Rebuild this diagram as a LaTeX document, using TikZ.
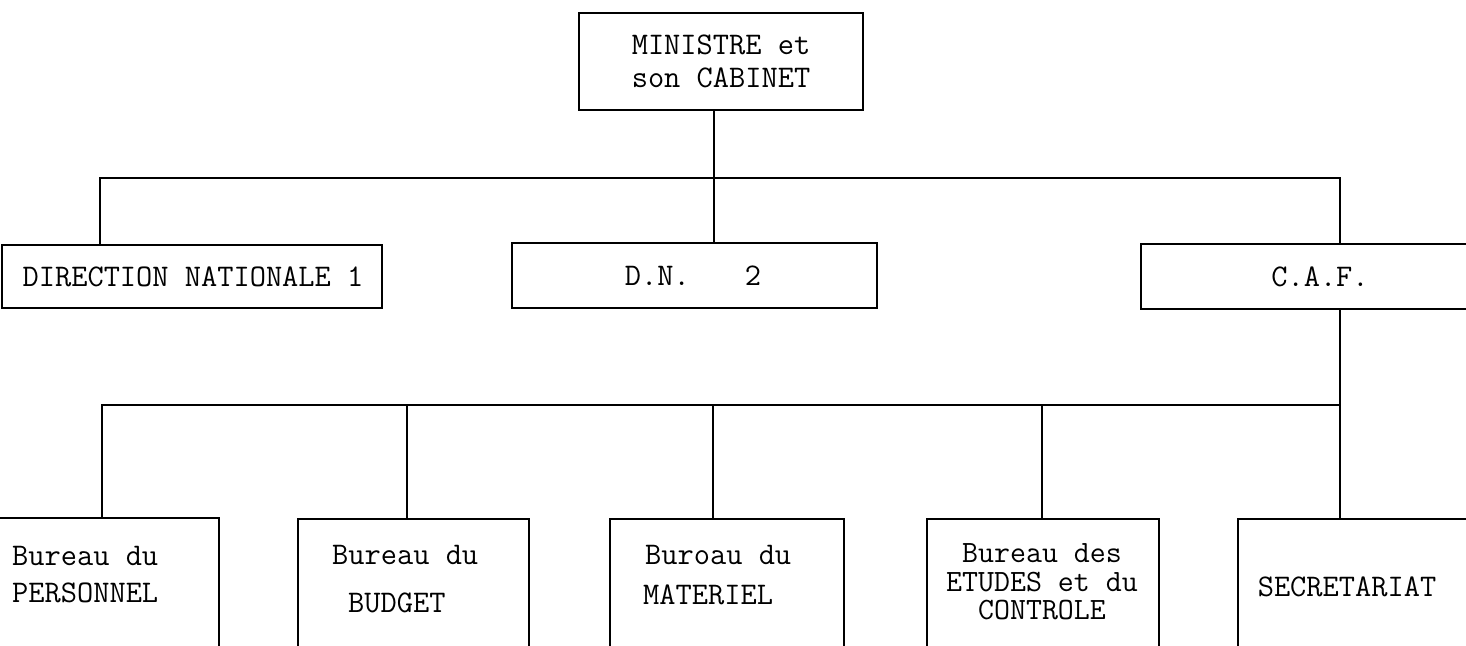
\documentclass[tikz,border=0pt]{standalone}
\begin{document}
\begin{tikzpicture}[x=1pt,y=-1pt,
  orgbox/.style={draw=black, line width=1.5pt, inner sep=0pt, fill=none},
  lbl/.style={inner sep=0pt, font=\fontsize{31.5}{32}\ttfamily},
  link/.style={draw=black, line width=1.5pt}]
  % page frame
  \useasboundingbox (0,0) rectangle (1466,645);
  \clip (0,0) rectangle (1466,645);

  % top level
  \node[orgbox, minimum width=284pt, minimum height=97pt, align=center,
        font=\fontsize{31.5}{33}\ttfamily] (min) at (721,61.5) {MINISTRE et\\son CABINET};

  % second level
  \node[orgbox, minimum width=380pt, minimum height=63pt] (dn1) at (192,276.5) {};
  \node[orgbox, minimum width=365pt, minimum height=65pt] (dn2) at (694.5,275.5) {};
  \node[orgbox, minimum width=358pt, minimum height=65pt] (caf) at (1320,276.5) {};
  \node[lbl] (tdn1) at (193,277) {DIRECTION NATIONALE 1};
  \node[lbl] (tdn2) at (693,276) {D.N.\hspace*{55pt}2};
  \node[lbl] (tcaf) at (1320,277) {C.A.F.};

  % third level (boxes run past the lower edge)
  \node[orgbox, anchor=north west, minimum width=268pt, minimum height=190pt] (pers) at (-50,517) {};
  \node[orgbox, anchor=north west, minimum width=231pt, minimum height=190pt] (budg) at (297,518) {};
  \node[orgbox, anchor=north west, minimum width=234pt, minimum height=190pt] (mat) at (609,518) {};
  \node[orgbox, anchor=north west, minimum width=232pt, minimum height=190pt] (etu) at (926,518) {};
  \node[orgbox, anchor=north west, minimum width=260pt, minimum height=190pt] (sec) at (1237,518) {};

  \node[lbl, anchor=west] (tpers1) at (12,556) {Bureau du};
  \node[lbl, anchor=west] (tpers2) at (12,593) {PERSONNEL};
  \node[lbl, anchor=west] (tbudg1) at (332,555) {Bureau du};
  \node[lbl, anchor=west] (tbudg2) at (348,603) {BUDGET};
  \node[lbl, anchor=west] (tmat1) at (645,555) {Buroau du};
  \node[lbl, anchor=west] (tmat2) at (643,595) {MATERIEL};
  \node[lbl, align=center, font=\fontsize{31}{28.5}\ttfamily] (tetu) at (1042,582)
       {Bureau des\\ETUDES et du\\CONTROLE};
  \node[lbl] (tsec) at (1347,587) {SECRETARIAT};

  % bus coordinates
  \coordinate (b1L) at (100,178);
  \coordinate (b1M) at (714,178);
  \coordinate (b1R) at (1340,178);
  \coordinate (b2L) at (102,405);
  \coordinate (b2R) at (1340,405);
  \coordinate (xbudg) at (407,405);
  \coordinate (xmat) at (713,405);
  \coordinate (xetu) at (1042,405);

  % connectors
  \draw[link] (min.south -| b1M) -- (dn2.north -| b1M);
  \draw[link] (dn1.north -| b1L) -- (b1L) -- (b1R) -- (caf.north -| b1R);
  \draw[link] (caf.south -| b2R) -- (sec.north -| b2R);
  \draw[link] (pers.north -| b2L) -- (b2L) -- (b2R);
  \draw[link] (xbudg) -- (budg.north -| xbudg);
  \draw[link] (xmat) -- (mat.north -| xmat);
  \draw[link] (xetu) -- (etu.north -| xetu);
\end{tikzpicture}
\end{document}
